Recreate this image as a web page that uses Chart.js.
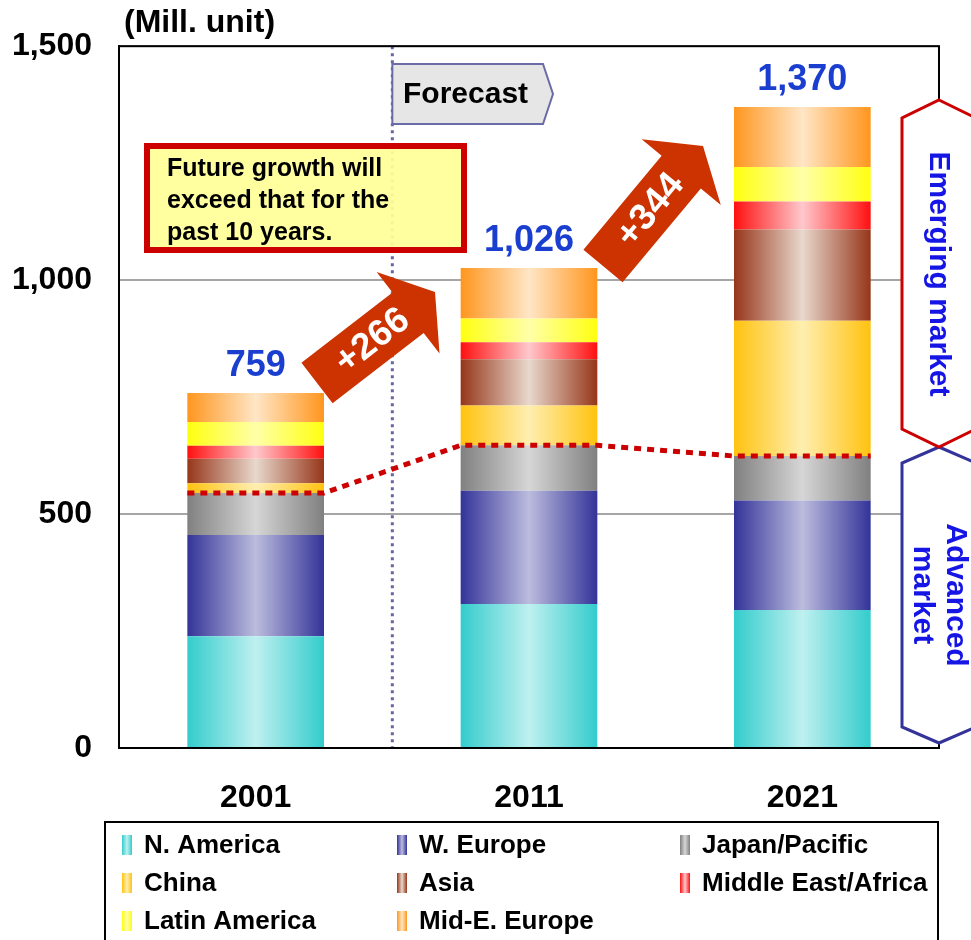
<!DOCTYPE html>
<html>
<head>
<meta charset="utf-8">
<script src="https://cdn.jsdelivr.net/npm/chart.js@4.4.1/dist/chart.umd.min.js"></script>
<style>
  html, body { margin: 0; padding: 0; background: #fff; }
  #marketChart { display: block; }
</style>
</head>
<body>
<canvas id="marketChart" width="971" height="940"></canvas>
<script>
// data (million units), stacked bottom to top
const years = ["2001", "2011", "2021"];
const nAmerica = [239, 308, 295];
const wEurope = [216, 242, 234];
const japanPacific = [90, 97, 95];
const china = [21, 85, 289];
const asia = [52, 99, 195];
const middleEast = [28, 36, 60];
const latinAmerica = [51, 51, 74];
const midEEurope = [62, 108, 128];

const regionNames = ["N. America", "W. Europe", "Japan/Pacific", "China", "Asia",
    "Middle East/Africa", "Latin America", "Mid-E. Europe"];
const regionValues = [nAmerica, wEurope, japanPacific, china, asia, middleEast, latinAmerica, midEEurope];
const edgeColors = ["#33cccc", "#333399", "#808080", "#ffc20e", "#96361a", "#ff1010", "#ffff10", "#ff961e"];
const lightColors = ["#bff0f0", "#bcbcde", "#d6d6d6", "#feeeb0", "#e8d8cc", "#ffc8cc", "#ffffa8", "#ffe6c6"];

const totalLabels = ["759", "1,026", "1,370"];
const growthLabels = ["+266", "+344"];
const yMax = 1500;
const yStep = 500;

const FONT = "'Liberation Sans', Arial, sans-serif";

function barFill(i) {
    return function (ctx) {
        const chart = ctx.chart;
        if (ctx.type !== "data" || !chart.chartArea) return edgeColors[i];
        const xs = chart.scales.x;
        const cx = xs.getPixelForValue(ctx.dataIndex);
        const half = xs.width / years.length * 0.5 / 2;
        const g = chart.ctx.createLinearGradient(cx - half, 0, cx + half, 0);
        g.addColorStop(0, edgeColors[i]);
        g.addColorStop(0.5, lightColors[i]);
        g.addColorStop(1, edgeColors[i]);
        return g;
    };
}

function drawArrow(ctx, tx, ty, hx, hy, label) {
    const angle = Math.atan2(hy - ty, hx - tx);
    const len = Math.hypot(hx - tx, hy - ty);
    const sw = 51, hw = 103, hl = 34;
    ctx.save();
    ctx.translate(tx, ty);
    ctx.rotate(angle);
    ctx.beginPath();
    ctx.moveTo(0, -sw / 2);
    ctx.lineTo(len - hl, -sw / 2);
    ctx.lineTo(len - hl, -hw / 2);
    ctx.lineTo(len, 0);
    ctx.lineTo(len - hl, hw / 2);
    ctx.lineTo(len - hl, sw / 2);
    ctx.lineTo(0, sw / 2);
    ctx.closePath();
    ctx.fillStyle = "#cc3300";
    ctx.fill();
    ctx.fillStyle = "#fff";
    ctx.font = "bold 37px " + FONT;
    ctx.textAlign = "center";
    ctx.textBaseline = "middle";
    ctx.fillText(label, (len - hl) / 2 + 12, 1);
    ctx.restore();
}

function hexagon(ctx, cx, top, bottom, half, slope, color) {
    ctx.beginPath();
    ctx.moveTo(cx, top);
    ctx.lineTo(cx + half, top + slope);
    ctx.lineTo(cx + half, bottom - slope);
    ctx.lineTo(cx, bottom);
    ctx.lineTo(cx - half, bottom - slope);
    ctx.lineTo(cx - half, top + slope);
    ctx.closePath();
    ctx.fillStyle = "#fff";
    ctx.fill();
    ctx.strokeStyle = color;
    ctx.lineWidth = 3;
    ctx.stroke();
}

function rotatedText(ctx, lines, x, y, gap) {
    ctx.save();
    ctx.translate(x, y);
    ctx.rotate(Math.PI / 2);
    ctx.fillStyle = "#1515e6";
    ctx.font = "bold 30px " + FONT;
    ctx.textAlign = "center";
    ctx.textBaseline = "middle";
    lines.forEach((t, k) => ctx.fillText(t, 0, (k - (lines.length - 1) / 2) * gap));
    ctx.restore();
}

const annotations = {
    id: "annotations",
    beforeDatasetsDraw(chart) {
        const { ctx, chartArea: a, scales: { x } } = chart;
        const divX = (x.getPixelForValue(0) + x.getPixelForValue(1)) / 2;
        ctx.save();
        ctx.strokeStyle = "#6666a6";
        ctx.lineWidth = 3;
        ctx.setLineDash([3, 4]);
        ctx.beginPath();
        ctx.moveTo(divX, a.top);
        ctx.lineTo(divX, a.bottom);
        ctx.stroke();
        ctx.restore();
    },
    afterDatasetsDraw(chart) {
        const { ctx, chartArea: a, scales: { x, y } } = chart;
        ctx.save();

        // advanced market boundary (top of Japan/Pacific)
        const meta = chart.getDatasetMeta(2);
        const pts = [];
        meta.data.forEach((bar, i) => {
            const py = y.getPixelForValue(nAmerica[i] + wEurope[i] + japanPacific[i]);
            pts.push([bar.x - bar.width / 2, py], [bar.x + bar.width / 2, py]);
        });
        ctx.strokeStyle = "#cc0000";
        ctx.lineWidth = 5;
        ctx.setLineDash([7, 6]);
        ctx.beginPath();
        pts.forEach((p, k) => k ? ctx.lineTo(p[0], p[1]) : ctx.moveTo(p[0], p[1]));
        ctx.stroke();
        ctx.setLineDash([]);

        // frame
        ctx.strokeStyle = "#000";
        ctx.lineWidth = 2;
        ctx.strokeRect(a.left, a.top, a.width, a.height);

        // market hexagons on the right
        hexagon(ctx, a.right, 447, a.bottom - 5, 37, 16, "#333399");
        hexagon(ctx, a.right, 100, 447, 37, 18, "#cc0000");
        rotatedText(ctx, ["Emerging market"], a.right - 1, 274, 0);
        rotatedText(ctx, ["Advanced", "market"], a.right, 595, 33);

        // Forecast tag
        const divX = (x.getPixelForValue(0) + x.getPixelForValue(1)) / 2;
        ctx.beginPath();
        ctx.moveTo(divX, 64);
        ctx.lineTo(543, 64);
        ctx.lineTo(553, 94);
        ctx.lineTo(543, 124);
        ctx.lineTo(divX, 124);
        ctx.closePath();
        ctx.fillStyle = "#e6e6e6";
        ctx.fill();
        ctx.strokeStyle = "#6b6ba8";
        ctx.lineWidth = 2;
        ctx.stroke();
        ctx.fillStyle = "#000";
        ctx.font = "bold 30px " + FONT;
        ctx.textAlign = "left";
        ctx.textBaseline = "middle";
        ctx.fillText("Forecast", 403, 95);

        // note box
        ctx.fillStyle = "rgba(255,255,153,0.93)";
        ctx.fillRect(147, 146, 317, 104);
        ctx.strokeStyle = "#cc0000";
        ctx.lineWidth = 6;
        ctx.strokeRect(147, 146, 317, 104);
        ctx.fillStyle = "#000";
        ctx.font = "bold 25px " + FONT;
        ["Future growth will", "exceed that for the", "past 10 years."]
            .forEach((t, k) => ctx.fillText(t, 167, 169 + k * 32));

        // growth arrows
        drawArrow(ctx, 317, 383, 435, 292, growthLabels[0]);
        drawArrow(ctx, 603, 266, 703, 146, growthLabels[1]);

        // totals
        const topMeta = chart.getDatasetMeta(regionValues.length - 1);
        ctx.fillStyle = "#1a3fd0";
        ctx.font = "bold 36px " + FONT;
        ctx.textAlign = "center";
        ctx.textBaseline = "alphabetic";
        topMeta.data.forEach((bar, i) => ctx.fillText(totalLabels[i], bar.x, bar.y - 17));

        // unit title
        ctx.fillStyle = "#000";
        ctx.font = "bold 32px " + FONT;
        ctx.textAlign = "left";
        ctx.textBaseline = "middle";
        ctx.fillText("(Mill. unit)", 124, 23);

        // legend
        ctx.strokeStyle = "#000";
        ctx.lineWidth = 2;
        ctx.strokeRect(105, 822, 833, 140);
        const colX = [122, 397, 680];
        const rowY = [845, 883, 921];
        ctx.font = "bold 26px " + FONT;
        regionNames.forEach((name, i) => {
            const lx = colX[i % 3], ly = rowY[Math.floor(i / 3)];
            const g = ctx.createLinearGradient(lx, 0, lx + 10, 0);
            g.addColorStop(0, edgeColors[i]);
            g.addColorStop(0.5, lightColors[i]);
            g.addColorStop(1, edgeColors[i]);
            ctx.fillStyle = g;
            ctx.fillRect(lx, ly - 10, 10, 20);
            ctx.fillStyle = "#000";
            ctx.fillText(name, lx + 22, ly + 1);
        });

        ctx.restore();
    }
};

new Chart(document.getElementById("marketChart"), {
    type: "bar",
    data: {
        labels: years,
        datasets: regionValues.map((vals, i) => ({
            label: regionNames[i],
            data: vals,
            backgroundColor: barFill(i),
            borderWidth: 0,
            barPercentage: 0.5,
            categoryPercentage: 1.0
        }))
    },
    options: {
        responsive: false,
        animation: false,
        devicePixelRatio: 1,
        layout: { padding: { top: 46, right: 32, bottom: 110, left: 0 } },
        plugins: { legend: { display: false }, tooltip: { enabled: false } },
        scales: {
            x: {
                stacked: true,
                grid: { display: false, drawTicks: false },
                border: { color: "#000", width: 2 },
                ticks: { color: "#000", font: { family: FONT, size: 32, weight: "bold" }, padding: 31 },
                afterFit: s => { s.height = 82; }
            },
            y: {
                stacked: true,
                min: 0,
                max: yMax,
                ticks: {
                    stepSize: yStep,
                    color: "#000",
                    padding: 27,
                    font: { family: FONT, size: 32, weight: "bold" },
                    callback: v => v.toLocaleString("en-US")
                },
                grid: { color: "#a6a6a6", lineWidth: 2, drawTicks: false },
                border: { color: "#000", width: 2 },
                afterFit: s => { s.width = 119; }
            }
        }
    },
    plugins: [annotations]
});
</script>
</body>
</html>
